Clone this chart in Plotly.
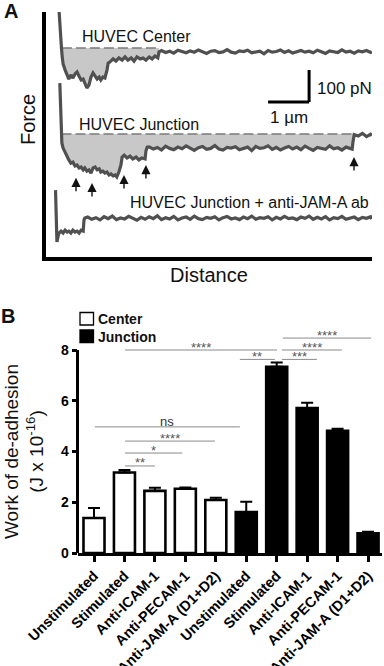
import plotly.graph_objects as go

# ---------------- Panel A data: force–distance retraction traces ----------------
# distance in µm, force in pN relative to each trace's zero-force baseline
center_dist = [0.00, 0.03, 0.06, 0.08, 0.10, 0.15, 0.20, 0.24, 0.29, 0.34,
               0.39, 0.44, 0.49, 0.54, 0.59, 0.63, 0.68, 0.73, 0.78, 0.83,
               0.88, 0.93, 0.98, 1.02, 1.07, 1.12, 1.17, 1.20, 1.24, 1.32,
               1.39, 1.46, 1.54, 1.61, 1.68, 1.76, 1.83, 1.90, 1.98, 2.05,
               2.12, 2.20, 2.27, 2.34, 2.41, 2.44,
               2.5, 2.6, 2.7, 2.8, 2.9, 3.0, 3.1, 3.2, 3.3, 3.4,
               3.5, 3.6, 3.7, 3.8, 3.9, 4.0, 4.1, 4.2, 4.3, 4.4,
               4.5, 4.6, 4.7, 4.8, 4.9, 5.0, 5.1, 5.2, 5.3, 5.4,
               5.5, 5.6, 5.7, 5.8, 5.9, 6.0, 6.1, 6.2, 6.3, 6.4,
               6.5, 6.6, 6.7, 6.8, 6.9, 7.0, 7.1, 7.2, 7.3, 7.4,
               7.5, 7.6, 7.63]
center_force = [119, 40, 0, -30, -50, -69, -88, -97, -84, -94,
                -81, -75, -88, -100, -97, -112, -125, -116, -91, -78,
                -88, -97, -91, -100, -91, -94, -69, -47, -44, -34,
                -41, -31, -38, -28, -38, -31, -41, -28, -34, -31,
                -38, -28, -34, -25, -31, -12,
                -8, -14, -10, -16, -7, -12, -15, -9, -13, -6,
                -11, -17, -10, -8, -14, -12, -5, -13, -16, -9,
                -11, -7, -15, -12, -10, -18, -8, -13, -11, -6,
                -14, -9, -16, -12, -8, -13, -10, -15, -7, -12,
                -17, -9, -11, -14, -6, -13, -10, -16, -9, -12,
                -8, -14, -11]

junction_dist = [0.02, 0.04, 0.05, 0.07, 0.10, 0.15, 0.20, 0.24, 0.29, 0.34,
                 0.39, 0.44, 0.49, 0.54, 0.59, 0.63, 0.68, 0.73, 0.78, 0.83,
                 0.88, 0.93, 0.98, 1.02, 1.07, 1.12, 1.17, 1.22, 1.27, 1.32,
                 1.37, 1.41, 1.46, 1.51, 1.54, 1.59, 1.66, 1.73, 1.80, 1.88,
                 1.95, 2.02, 2.10, 2.12, 2.15,
                 2.2, 2.3, 2.4, 2.5, 2.6, 2.7, 2.8, 2.9, 3.0, 3.1,
                 3.2, 3.3, 3.4, 3.5, 3.6, 3.7, 3.8, 3.9, 4.0, 4.1,
                 4.2, 4.3, 4.4, 4.5, 4.6, 4.7, 4.8, 4.9, 5.0, 5.1,
                 5.2, 5.3, 5.4, 5.5, 5.6, 5.7, 5.8, 5.9, 6.0, 6.1,
                 6.2, 6.3, 6.4, 6.5, 6.6, 6.7, 6.8, 6.9, 7.0, 7.1,
                 7.15, 7.17, 7.2, 7.3, 7.4, 7.5, 7.6, 7.63]
junction_force = [159, 75, 6, -28, -44, -59, -72, -81, -91, -88,
                  -100, -97, -106, -103, -112, -106, -116, -112, -122, -106,
                  -103, -112, -109, -119, -116, -122, -119, -128, -125, -131,
                  -128, -134, -119, -97, -72, -66, -75, -69, -78, -72,
                  -81, -75, -78, -53, -41,
                  -40, -47, -42, -50, -38, -45, -49, -41, -46, -37,
                  -44, -51, -43, -39, -48, -45, -36, -47, -50, -42,
                  -44, -40, -49, -46, -41, -52, -39, -45, -43, -37,
                  -48, -42, -50, -44, -39, -47, -41, -49, -38, -45,
                  -51, -42, -44, -48, -37, -46, -43, -50, -41, -45,
                  -47, -25, -2, -6, 2, -8, -1, -5]

jama_dist = [-0.085, -0.05, -0.02, 0.00, 0.05, 0.10, 0.15, 0.20, 0.24, 0.29,
             0.34, 0.39, 0.44, 0.49, 0.54, 0.59, 0.61, 0.63,
             0.7, 0.8, 0.9, 1.0, 1.1, 1.2, 1.3, 1.4, 1.5, 1.6,
             1.7, 1.8, 1.9, 2.0, 2.1, 2.2, 2.3, 2.4, 2.5, 2.6,
             2.7, 2.8, 2.9, 3.0, 3.1, 3.2, 3.3, 3.4, 3.5, 3.6,
             3.7, 3.8, 3.9, 4.0, 4.1, 4.2, 4.3, 4.4, 4.5, 4.6,
             4.7, 4.8, 4.9, 5.0, 5.1, 5.2, 5.3, 5.4, 5.5, 5.6,
             5.7, 5.8, 5.9, 6.0, 6.1, 6.2, 6.3, 6.4, 6.5, 6.6,
             6.7, 6.8, 6.9, 7.0, 7.1, 7.2, 7.3, 7.4, 7.5, 7.6,
             7.63]
jama_force = [87, -75, -56, -47, -41, -47, -38, -44, -41, -47,
              -38, -44, -41, -47, -38, -41, -6, 0,
              3, -4, 1, -6, 4, -2, 6, -5, 0, -3,
              5, -1, -7, 2, -4, 4, -2, 7, -5, 1,
              -3, 5, -6, 0, 3, -4, 6, -2, -5, 2,
              -1, 4, -6, 1, 5, -3, 0, -5, 3, -2,
              6, -4, 1, -1, 4, -6, 2, -3, 5, -2,
              0, -5, 3, -1, 6, -4, 2, -3, 4, -6,
              1, -2, 5, -4, 0, 3, -5, 2, -1, 4,
              -3]

# rupture events marked with arrows on the junction trace (µm, pN)
rupture_dist = [0.415, 0.805, 1.585, 2.12, 7.195]
rupture_force = [-137, -153, -128, -97, -72]

# ---------------- Panel B data: work of de-adhesion ----------------
conditions = ["Unstimulated", "Stimulated", "Anti-ICAM-1", "Anti-PECAM-1",
              "Anti-JAM-A (D1+D2)"]
center_work = [1.38, 3.17, 2.45, 2.53, 2.09]
center_sem = [0.39, 0.10, 0.12, 0.05, 0.09]
junction_work = [1.61, 7.34, 5.71, 4.82, 0.78]
junction_sem = [0.41, 0.17, 0.21, 0.08, 0.06]
y_ticks = [0, 2, 4, 6, 8]
comparisons = [(0, 5, "ns"), (1, 4, "****"), (1, 3, "*"), (1, 2, "**"),
               (1, 6, "****"), (5, 6, "**"), (6, 7, "***"), (6, 8, "****"),
               (6, 9, "****")]

# ---------------- layout helpers ----------------
W, H = 384, 666
FONT = "Liberation Sans, Arial, sans-serif"


def fx(p):
    return p / W


def fy(p):
    return 1 - p / H


UM_PX = 41.0      # pixels per µm
PN_PX = 32.0 / 100.0  # pixels per pN
X0_PX = 59.0      # pixel of distance 0
A_BOTTOM, A_TOP = 257.0, 12.0
A_LEFT, A_RIGHT = 45.5, 372.0
a_xrange = [-(X0_PX - A_LEFT) / UM_PX, (A_RIGHT - X0_PX) / UM_PX]
a_yrange = [0, (A_BOTTOM - A_TOP) / PN_PX]


def a_y(pix):
    return (A_BOTTOM - pix) / PN_PX


off_center = a_y(48)
off_junction = a_y(134)
off_jama = a_y(218)

fig = go.Figure()

TRACE_COLOR = "#505050"
FILL_COLOR = "#c8c8c8"
DASH_COLOR = "#7a7a7a"


def band(dist, force, lo, hi, off):
    xs, ys = [lo], [off]
    for d, f in zip(dist, force):
        if lo <= d <= hi:
            xs.append(d)
            ys.append(off + min(f, 0))
    xs.append(hi)
    ys.append(off)
    return xs, ys


for dist, force, off, lo, hi in [
        (center_dist, center_force, off_center, 0.06, 2.44),
        (junction_dist, junction_force, off_junction, 0.05, 7.17)]:
    bx, by = band(dist, force, lo, hi, off)
    fig.add_trace(go.Scatter(x=bx, y=by, fill="toself", fillcolor=FILL_COLOR,
                             mode="lines", line=dict(width=0),
                             hoverinfo="skip", xaxis="x", yaxis="y"))
    fig.add_trace(go.Scatter(x=[lo + 0.01, hi + 0.02], y=[off, off], mode="lines",
                             line=dict(color=DASH_COLOR, width=1.6, dash="10px,4px"),
                             xaxis="x", yaxis="y"))

for dist, force, off in [(center_dist, center_force, off_center),
                         (junction_dist, junction_force, off_junction),
                         (jama_dist, jama_force, off_jama)]:
    fig.add_trace(go.Scatter(x=dist, y=[off + f for f in force], mode="lines",
                             line=dict(color=TRACE_COLOR, width=3.2),
                             xaxis="x", yaxis="y"))

annotations = []
for d, f in zip(rupture_dist, rupture_force):
    annotations.append(dict(x=d, y=off_junction + f, xref="x", yref="y",
                            ax=0, ay=15, showarrow=True, arrowhead=2,
                            arrowsize=1.3, arrowwidth=1.4, arrowcolor="#111",
                            text=""))

TXT = dict(family=FONT, size=16, color="#111")


def pann(x, y, text, size, **kw):
    d = dict(x=fx(x), y=fy(y), xref="paper", yref="paper", text=text,
             showarrow=False, xanchor="center", yanchor="middle",
             font=dict(family=FONT, size=size, color="#111"))
    d.update(kw)
    return d


annotations += [
    dict(x=1.88, y=a_y(36), xref="x", yref="y", text="HUVEC Center",
         showarrow=False, font=TXT, xanchor="center", yanchor="middle"),
    dict(x=1.94, y=a_y(124), xref="x", yref="y", text="HUVEC Junction",
         showarrow=False, font=TXT, xanchor="center", yanchor="middle"),
    dict(x=(128 - X0_PX) / UM_PX, y=a_y(202), xref="x", yref="y",
         text="HUVEC Junction + anti-JAM-A ab", showarrow=False, font=TXT,
         xanchor="left", yanchor="middle"),
    dict(x=6.24, y=a_y(88), xref="x", yref="y", text="100 pN",
         showarrow=False, font=dict(family=FONT, size=17, color="#111"),
         xanchor="left", yanchor="middle"),
    dict(x=5.6, y=a_y(117), xref="x", yref="y", text="1 µm",
         showarrow=False, font=dict(family=FONT, size=17, color="#111"),
         xanchor="center", yanchor="middle"),
    pann(28, 120, "Force", 20, textangle=-90),
    pann(209, 275, "Distance", 20),
    pann(11, 11, "<b>A</b>", 20),
    pann(8, 316, "<b>B</b>", 20),
]

shapes = [
    # scale bars (1 µm, 100 pN)
    dict(type="line", xref="x", yref="y", x0=5.1, x1=6.1, y0=a_y(102), y1=a_y(102),
         line=dict(color="#000", width=3)),
    dict(type="line", xref="x", yref="y", x0=6.1, x1=6.1, y0=a_y(102),
         y1=a_y(102) + 100, line=dict(color="#000", width=3)),
]

# ---------------- Panel B ----------------
B_ZERO, B_EIGHT = 553.0, 350.0
unit_px = (B_ZERO - B_EIGHT) / 8
b_top = 9.3
BAR_X0, BAR_DX = 94.0, 30.45
B_LEFT, B_RIGHT = 77.5, 382.0
b_xrange = [(B_LEFT - BAR_X0) / BAR_DX, (B_RIGHT - BAR_X0) / BAR_DX]
pos_center = [0, 1, 2, 3, 4]
pos_junction = [5, 6, 7, 8, 9]

fig.add_trace(go.Bar(x=pos_center, y=center_work, width=0.69,
                     marker=dict(color="white", line=dict(color="black", width=2.6)),
                     error_y=dict(type="data", symmetric=False, array=center_sem,
                                  arrayminus=[0] * len(center_sem),
                                  color="black", thickness=2, width=6),
                     xaxis="x2", yaxis="y2"))
fig.add_trace(go.Bar(x=pos_junction, y=junction_work, width=0.69,
                     marker=dict(color="black", line=dict(color="black", width=2.6)),
                     error_y=dict(type="data", symmetric=False, array=junction_sem,
                                  arrayminus=[0] * len(junction_sem),
                                  color="black", thickness=2, width=6),
                     xaxis="x2", yaxis="y2"))

# y axis line (0..8)
shapes.append(dict(type="line", xref="paper", yref="y2", x0=fx(B_LEFT), x1=fx(B_LEFT),
                   y0=0, y1=8, line=dict(color="black", width=3)))

# significance brackets
bracket_level = [4.97, 4.41, 3.94, 3.43, 8.0, 7.63, 7.63, 8.0, 8.47]
bracket_pad = [(0.03, -0.21), (0.02, -0.03), (0.02, -0.1), (0.02, 0.0),
               (0.02, 0.01), (-0.21, -0.06), (0.17, 0.32), (0.17, 0.14),
               (0.2, 0.1)]
for (i, j, lab), lvl, (pl, pr) in zip(comparisons, bracket_level, bracket_pad):
    x0, x1 = i + pl, j + pr
    shapes.append(dict(type="line", xref="x2", yref="y2", x0=x0, x1=x1,
                       y0=lvl, y1=lvl, line=dict(color="#8a8a8a", width=1)))
    if lab == "ns":
        annotations.append(dict(x=(x0 + x1) / 2, y=lvl, xref="x2", yref="y2",
                                text="ns", showarrow=False, xanchor="center",
                                yanchor="bottom", yshift=-4,
                                font=dict(family=FONT, size=13, color="#333")))
    else:
        annotations.append(dict(x=(x0 + x1) / 2, y=lvl, xref="x2", yref="y2",
                                text=lab, showarrow=False, xanchor="center",
                                yanchor="middle", yshift=3,
                                font=dict(family=FONT, size=13, color="#555")))

# legend (drawn manually)
shapes += [
    dict(type="rect", xref="paper", yref="paper", x0=fx(80), x1=fx(93.5),
         y0=fy(325), y1=fy(312.5), fillcolor="white",
         line=dict(color="black", width=1.3)),
    dict(type="rect", xref="paper", yref="paper", x0=fx(80), x1=fx(93.5),
         y0=fy(342.5), y1=fy(330), fillcolor="black",
         line=dict(color="black", width=1.3)),
]
annotations += [
    pann(96, 319, "<b>Center</b>", 14, xanchor="left"),
    pann(96, 336.5, "<b>Junction</b>", 14, xanchor="left"),
    pann(24, 452, "Work of de-adhesion<br>(J x 10<sup>-16</sup>)", 19,
         textangle=-90),
]

fig.update_layout(
    template="none",
    width=W, height=H, margin=dict(l=0, r=0, t=0, b=0, autoexpand=False),
    paper_bgcolor="white", plot_bgcolor="rgba(0,0,0,0)", showlegend=False,
    xaxis=dict(domain=[fx(A_LEFT), fx(A_RIGHT)], range=a_xrange, anchor="y",
               showline=True, linewidth=3.5, linecolor="black", showgrid=False,
               zeroline=False, showticklabels=False, ticks="", automargin=False),
    yaxis=dict(domain=[fy(A_BOTTOM), fy(A_TOP)], range=a_yrange, anchor="x",
               showline=True, linewidth=3.5, linecolor="black", showgrid=False,
               zeroline=False, showticklabels=False, ticks="", automargin=False),
    xaxis2=dict(domain=[fx(B_LEFT), fx(B_RIGHT)], range=b_xrange, anchor="y2",
                showline=True, linewidth=2.5, linecolor="black", showgrid=False,
                zeroline=False, ticks="outside", ticklen=6, tickwidth=2.5,
                tickcolor="black", tickvals=pos_center + pos_junction,
                ticktext=conditions + conditions, tickangle=-45, automargin=False,
                tickfont=dict(family=FONT, size=14.5, color="#000", weight="bold")),
    yaxis2=dict(domain=[fy(B_ZERO), fy(B_ZERO - b_top * unit_px)], range=[0, b_top],
                anchor="x2", showline=False, showgrid=False, zeroline=False,
                ticks="outside", ticklen=5, tickwidth=2.5, tickcolor="black",
                tickvals=y_ticks, automargin=False,
                tickfont=dict(family=FONT, size=14, color="#000", weight="bold")),
    shapes=shapes, annotations=annotations,
)

fig.write_html("out.html", config={"displayModeBar": False},
               post_script="document.body.style.margin='0px';"
                           "document.body.style.overflow='hidden';")
